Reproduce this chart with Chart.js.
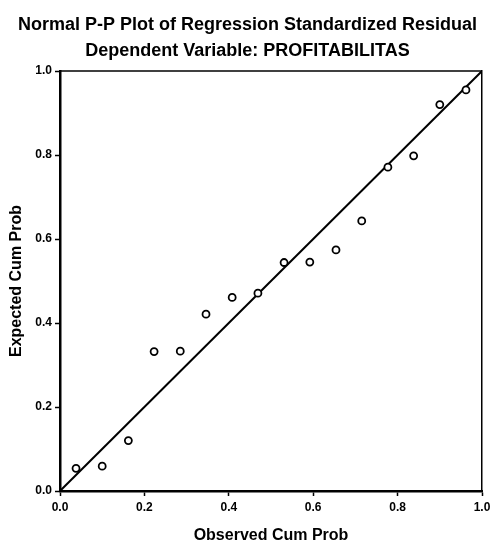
<!DOCTYPE html>
<html>
<head>
<meta charset="utf-8">
<script src="https://cdn.jsdelivr.net/npm/chart.js@4"></script>
<style>
html,body{margin:0;padding:0;background:#fff;}
canvas{display:block;}
</style>
</head>
<body>
<canvas id="c" width="495" height="545"></canvas>
<script>
const observedCumProb = [0.038,0.100,0.162,0.223,0.285,0.346,0.408,0.469,0.531,0.592,0.654,0.715,0.777,0.838,0.900,0.962];
const expectedCumProb = [0.054,0.059,0.120,0.332,0.333,0.421,0.461,0.471,0.544,0.545,0.574,0.643,0.771,0.798,0.920,0.955];
const refLineX = [0,1];
const refLineY = [0,1];
const tickValues = [0,0.2,0.4,0.6,0.8,1.0];
const titleText = 'Normal P-P Plot of Regression Standardized Residual';
const subtitleText = 'Dependent Variable: PROFITABILITAS';
const xTitle = 'Observed Cum Prob';
const yTitle = 'Expected Cum Prob';

const FONT = '"Liberation Sans", Arial, Helvetica, sans-serif';

const framePlugin = {
  id: 'frame',
  afterDatasetsDraw(chart) {
    const a = chart.chartArea, ctx = chart.ctx;
    ctx.save();
    ctx.strokeStyle = '#000';
    ctx.lineWidth = 1.5;
    ctx.beginPath();
    ctx.moveTo(a.left, a.top);
    ctx.lineTo(a.right, a.top);
    ctx.stroke();
    ctx.restore();
  }
};

new Chart(document.getElementById('c'), {
  type: 'scatter',
  data: {
    datasets: [
      {
        type: 'line',
        data: refLineX.map((x,i)=>({x:x, y:refLineY[i]})),
        borderColor: '#000',
        borderWidth: 2,
        pointRadius: 0,
        fill: false,
        order: 2
      },
      {
        data: observedCumProb.map((x,i)=>({x:x, y:expectedCumProb[i]})),
        pointStyle: 'circle',
        pointRadius: 3.5,
        pointBorderWidth: 1.8,
        pointBorderColor: '#000',
        pointBackgroundColor: '#fff',
        order: 1
      }
    ]
  },
  options: {
    responsive: false,
    animation: false,
    layout: { padding: { left: 0, right: 0, top: 0, bottom: 0 } },
    plugins: {
      legend: { display: false },
      tooltip: { enabled: false },
      title: {
        display: true, text: titleText, color: '#000',
        font: { family: FONT, size: 18, weight: 'bold', lineHeight: 1.2 },
        padding: { top: 14, bottom: 0 }
      },
      subtitle: {
        display: true, text: subtitleText, color: '#000',
        font: { family: FONT, size: 18, weight: 'bold', lineHeight: 1.2 },
        padding: { top: 4.6, bottom: 9.2 }
      }
    },
    scales: {
      x: {
        type: 'linear', min: 0, max: 1,
        afterFit(s) { s.height = 54; },
        afterBuildTicks(s) { s.ticks = tickValues.map(v=>({value:v})); },
        border: { color: '#000', width: 2.5 },
        grid: { drawOnChartArea: false, tickLength: 5, tickColor: '#000', tickWidth: 1.5 },
        ticks: {
          color: '#000', padding: 4, maxRotation: 0,
          font: { family: FONT, size: 12, weight: 'bold' },
          callback: v => v.toFixed(1)
        },
        title: {
          display: true, text: xTitle, color: '#000', padding: 0,
          font: { family: FONT, size: 16, weight: 'bold', lineHeight: 1.2 }
        }
      },
      y: {
        type: 'linear', min: 0, max: 1,
        afterFit(s) { s.width = 60; },
        afterBuildTicks(s) { s.ticks = tickValues.map(v=>({value:v})); },
        border: { color: '#000', width: 2.5 },
        grid: { drawOnChartArea: false, tickLength: 5, tickColor: '#000', tickWidth: 1.5 },
        ticks: {
          color: '#000', padding: 3,
          font: { family: FONT, size: 12, weight: 'bold' },
          callback: v => v.toFixed(1)
        },
        title: {
          display: true, text: yTitle, color: '#000', padding: 7,
          font: { family: FONT, size: 16, weight: 'bold', lineHeight: 1.2 }
        }
      },
      y2: {
        type: 'linear', position: 'right', min: 0, max: 1,
        afterFit(s) { s.width = 13; },
        border: { color: '#000', width: 1.5 },
        grid: { display: false, drawOnChartArea: false },
        ticks: { display: false }
      }
    }
  },
  plugins: [framePlugin]
});
</script>
</body>
</html>
